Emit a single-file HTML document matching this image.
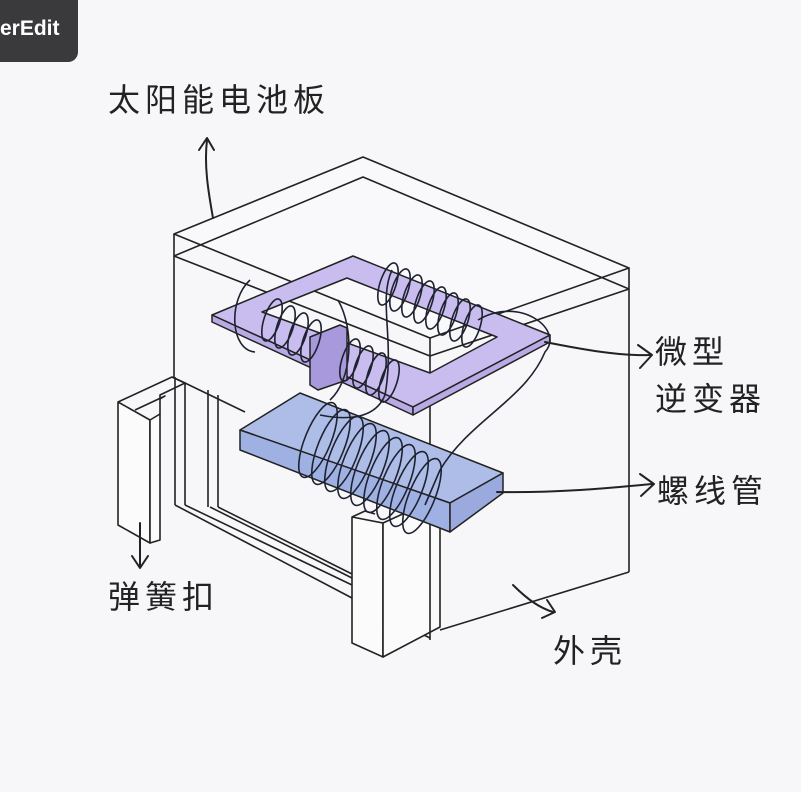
<!DOCTYPE html>
<html><head><meta charset="utf-8"><style>
html,body{margin:0;padding:0;background:#f7f7f9;}
svg{display:block}
text{font-family:"Liberation Sans","Noto Sans CJK SC",sans-serif;fill:#222}
</style></head><body>
<svg width="801" height="792" viewBox="0 0 801 792" xmlns="http://www.w3.org/2000/svg">
<rect width="801" height="792" fill="#f7f7f9"/>
<rect x="-10" y="-10" width="88" height="72" rx="10" fill="#3a3a3c"/>
<text x="0" y="35" font-size="21" font-weight="bold" style="fill:#fff">erEdit</text>

<g fill="none" stroke="#222" stroke-width="1.6" stroke-linejoin="round">
<polygon points="174,234 363,157 629,268 430,338" fill="#f9f9fb"/>
<polyline points="174,234 174,256 430,356 629,289 629,268"/>
<line x1="430" y1="338" x2="430" y2="356"/>
<polyline points="174,256 363,177 629,289"/>
<line x1="174" y1="256" x2="174" y2="377"/>
<line x1="629" y1="289" x2="629" y2="572"/>
<line x1="629" y1="572" x2="440" y2="630"/>
<line x1="430" y1="356" x2="430" y2="640"/>
<line x1="175" y1="377" x2="175" y2="505"/>
<line x1="185" y1="383" x2="185" y2="505"/>
<line x1="208" y1="390" x2="208" y2="507"/>
<line x1="218" y1="395" x2="218" y2="507"/>
<polyline points="172,377 185,383 245,412"/>
<line x1="175" y1="505" x2="352" y2="598"/>
<line x1="185" y1="505" x2="352" y2="585"/>
<line x1="210" y1="507" x2="352" y2="578"/>
<line x1="218" y1="507" x2="352" y2="574"/>
<line x1="383" y1="615" x2="430" y2="638"/>
<polygon points="118,402 150,420 150,543 118,525" fill="#fbfbfc"/>
<polygon points="150,420 160,414 160,540 150,543" fill="#fbfbfc"/>
<polyline points="118,402 172,377 185,383 160,395 160,414"/>
<polyline points="135,410 165,396 160,399"/>
<polygon points="352,517 383,523 383,657 352,643" fill="#fbfbfc"/>
<polygon points="383,523 440,497 440,627 383,657" fill="#fbfbfc"/>
<polyline points="352,517 365,511 375,514"/>
<line x1="430" y1="500" x2="430" y2="632"/>
</g>

<g stroke="#222" stroke-width="1.5" stroke-linejoin="round">
<path fill-rule="evenodd" fill="#c9bdf0" d="M212,315 L353,256 L550,335 L413,407 Z M262,312 L347,278 L497,337 L430,373 Z"/>
<polygon fill="#b9aae6" points="212,315 413,407 413,415 212,322"/>
<polygon fill="#b9aae6" points="413,407 550,335 550,342 413,415"/>
<polygon fill="#a898dc" points="310,337 340,325 347,328 347,380 318,390 310,385"/>
<polygon fill="#aebde8" points="240,430 300,393 503,473 450,503"/>
<polygon fill="#9fb0e2" points="240,430 450,503 450,532 240,450"/>
<polygon fill="#9aaadf" points="450,503 503,473 503,493 450,532"/>
</g>

<g fill="none" stroke="#1e2230" stroke-width="1.6">
<ellipse cx="272" cy="320" rx="8" ry="22" transform="rotate(18 272 320)"/>
<ellipse cx="285" cy="327" rx="8" ry="22" transform="rotate(18 285 327)"/>
<ellipse cx="298" cy="334" rx="8" ry="22" transform="rotate(18 298 334)"/>
<ellipse cx="311" cy="341" rx="8" ry="22" transform="rotate(18 311 341)"/>
<ellipse cx="350" cy="360" rx="8" ry="22" transform="rotate(18 350 360)"/>
<ellipse cx="363" cy="367" rx="8" ry="22" transform="rotate(18 363 367)"/>
<ellipse cx="376" cy="374" rx="8" ry="22" transform="rotate(18 376 374)"/>
<ellipse cx="389" cy="381" rx="8" ry="22" transform="rotate(18 389 381)"/>
<ellipse cx="388" cy="284" rx="8" ry="22" transform="rotate(18 388 284)"/>
<ellipse cx="400" cy="290" rx="8" ry="22" transform="rotate(18 400 290)"/>
<ellipse cx="412" cy="296" rx="8" ry="22" transform="rotate(18 412 296)"/>
<ellipse cx="424" cy="302" rx="8" ry="22" transform="rotate(18 424 302)"/>
<ellipse cx="436" cy="308" rx="8" ry="22" transform="rotate(18 436 308)"/>
<ellipse cx="448" cy="314" rx="8" ry="22" transform="rotate(18 448 314)"/>
<ellipse cx="460" cy="320" rx="8" ry="22" transform="rotate(18 460 320)"/>
<ellipse cx="472" cy="326" rx="8" ry="22" transform="rotate(18 472 326)"/>
<ellipse cx="318" cy="440" rx="13" ry="40" transform="rotate(22 318 440)"/>
<ellipse cx="331" cy="447" rx="13" ry="40" transform="rotate(22 331 447)"/>
<ellipse cx="344" cy="454" rx="13" ry="40" transform="rotate(22 344 454)"/>
<ellipse cx="357" cy="461" rx="13" ry="40" transform="rotate(22 357 461)"/>
<ellipse cx="370" cy="468" rx="13" ry="40" transform="rotate(22 370 468)"/>
<ellipse cx="383" cy="475" rx="13" ry="40" transform="rotate(22 383 475)"/>
<ellipse cx="396" cy="482" rx="13" ry="40" transform="rotate(22 396 482)"/>
<ellipse cx="409" cy="489" rx="13" ry="40" transform="rotate(22 409 489)"/>
<ellipse cx="422" cy="496" rx="13" ry="40" transform="rotate(22 422 496)"/>
<path d="M250,280 C228,300 230,350 255,352"/>
<path d="M338,300 C355,330 352,380 330,400"/>
<path d="M392,270 C378,300 395,340 385,395 C375,420 345,420 320,415"/>
<path d="M478,320 C520,295 565,330 545,352 C525,400 470,420 440,470 L425,505"/>
</g>

<g fill="none" stroke="#222" stroke-width="2" stroke-linecap="round" stroke-linejoin="round">
<path d="M213,218 C208,190 204,165 207,140"/><path d="M199,150 L207,138 L214,150"/>
<path d="M545,342 C585,350 620,356 650,355"/><path d="M638,345 L652,355 L640,368"/>
<path d="M497,492 C560,493 610,488 652,484"/><path d="M640,474 L654,484 L641,496"/>
<path d="M513,585 C528,600 540,608 553,612"/><path d="M542,618 L555,612 L547,600"/>
<path d="M140,523 L140,566"/><path d="M132,556 L140,568 L148,556"/>
</g>

<g font-size="32" letter-spacing="5">
<text x="108" y="111">太阳能电池板</text>
<text x="655" y="363">微型</text>
<text x="655" y="410">逆变器</text>
<text x="657" y="502">螺线管</text>
<text x="108" y="608">弹簧扣</text>
<text x="553" y="662">外壳</text>
</g>
</svg>
</body></html>
